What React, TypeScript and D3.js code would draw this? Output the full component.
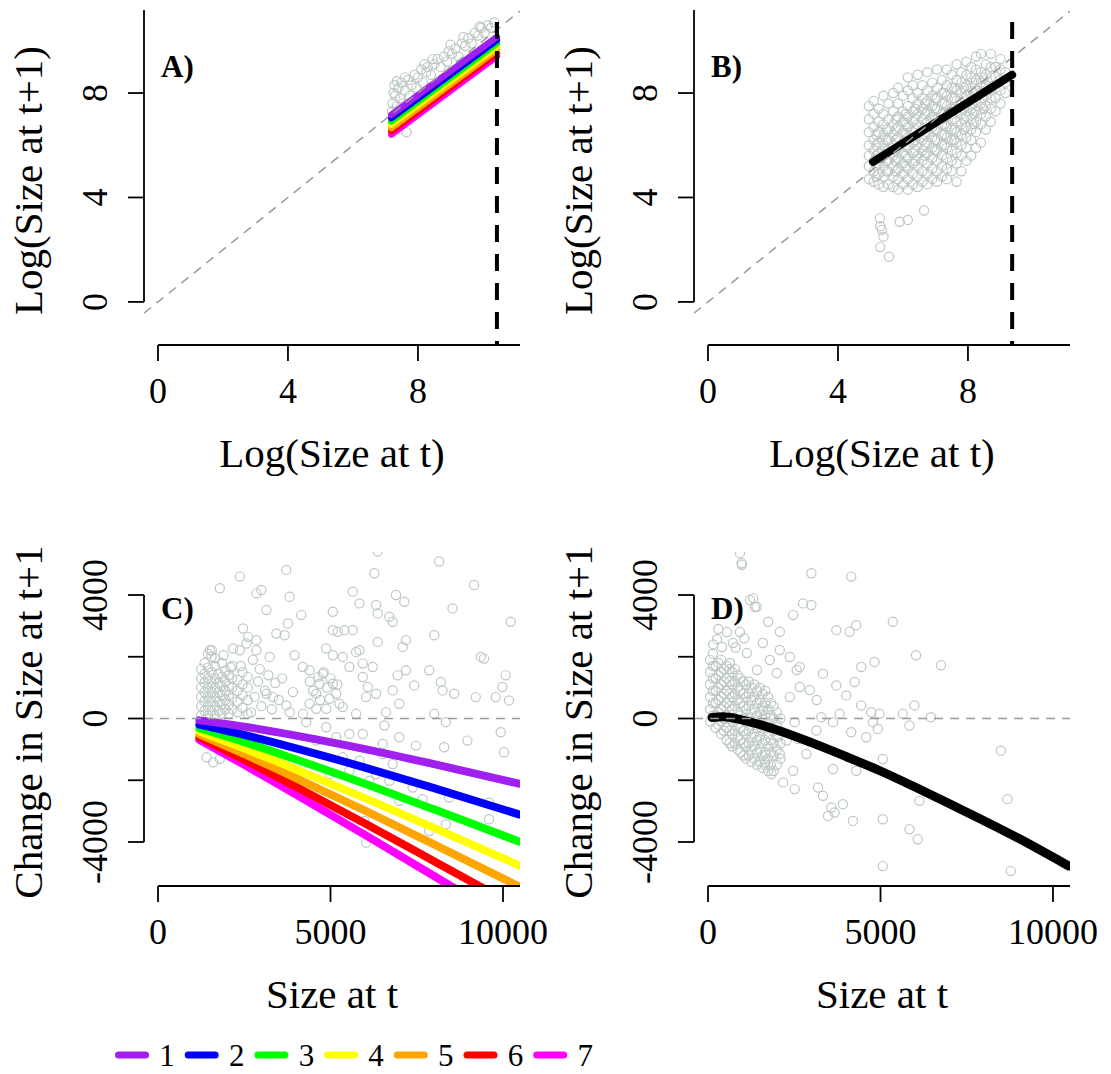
import React from "react";
import * as d3 from "d3";

const W = 1111;
const H = 1074;

// ---------- tick labels ----------
const logTicks = [0, 4, 8];
const logTickLabels = ["0", "4", "8"];
const sizeTicks = [0, 5000, 10000];
const sizeTickLabels = ["0", "5000", "10000"];
const changeTicks = [-4000, -2000, 0, 2000, 4000];
const changeTickLabels = ["-4000", "", "0", "", "4000"];

// ---------- axis domains (plot region extents) ----------
const logDomainX = [-0.43, 11.14];
const logDomainY = [-1.65, 11.18];
const sizeDomainX = [-406, 10493];
const changeDomainY = [-5425, 5393];

// ---------- legend ----------
const groups = ["1", "2", "3", "4", "5", "6", "7"];
const groupColors = ["#A020F0", "#0000FF", "#00FF00", "#FFFF00", "#FFA500", "#FF0000", "#FF00FF"];

// ---------- Panel A: per-group fitted lines (log scale) ----------
const aLineX = [7.18, 10.43];
const aLineY = [
  [7.16, 10.15],
  [7.04, 10.03],
  [6.91, 9.9],
  [6.79, 9.78],
  [6.66, 9.65],
  [6.54, 9.53],
  [6.41, 9.4],
];
const aThreshold = 10.43;
const aPoints: [number, number][] = [
  [7.2, 7.3], [7.22, 7.6], [7.25, 8.0], [7.28, 8.3], [7.3, 7.9], [7.35, 7.5], [7.4, 8.2], [7.45, 7.8],
  [7.5, 8.4], [7.55, 7.6], [7.6, 8.1], [7.65, 6.5], [7.7, 8.5], [7.75, 7.9], [7.8, 8.3], [7.9, 8.7],
  [7.95, 8.2], [8.0, 8.6], [8.1, 8.9], [8.15, 8.4], [8.25, 8.8], [8.3, 9.0], [8.4, 8.7], [8.5, 9.1],
  [8.6, 9.3], [8.7, 9.0], [8.8, 9.4], [8.9, 9.2], [8.95, 9.6], [9.05, 9.5], [9.15, 9.7], [9.25, 9.4],
  [9.35, 9.9], [9.45, 9.8], [9.55, 10.1], [9.65, 9.9], [9.75, 10.3], [9.85, 10.2], [9.95, 10.5],
  [10.05, 10.3], [10.15, 10.6], [10.25, 10.5], [10.35, 10.7], [7.3, 7.1], [7.5, 7.3], [7.8, 7.6],
  [7.35, 8.45], [7.6, 8.6], [8.2, 9.1], [8.45, 9.3], [9.0, 9.85], [9.4, 10.15], [9.9, 10.55],
];

// ---------- Panel B: pooled fit (log scale) ----------
const bLineX = [5.08, 9.36];
const bLineY = [5.36, 8.7];
const bThreshold = 9.36;
const bCloud: [number, number[]][] = [
  [4.95, [4.7, 5.2, 5.6, 6.0, 6.5, 7.0, 7.5]],
  [5.1, [4.6, 5.0, 5.4, 5.8, 6.2, 6.7, 7.2, 7.7]],
  [5.25, [4.5, 4.9, 5.3, 5.7, 6.1, 6.5, 6.9, 7.4]],
  [5.4, [4.4, 4.8, 5.2, 5.6, 6.0, 6.4, 6.8, 7.2, 7.9]],
  [5.55, [4.5, 5.0, 5.4, 5.8, 6.2, 6.6, 7.0, 7.6]],
  [5.7, [4.4, 4.8, 5.2, 5.6, 6.0, 6.4, 6.8, 7.3, 8.0]],
  [5.85, [4.3, 4.7, 5.1, 5.5, 5.9, 6.3, 6.7, 7.1, 7.6, 8.2]],
  [6.0, [4.5, 4.9, 5.3, 5.7, 6.1, 6.5, 6.9, 7.3, 7.9]],
  [6.15, [4.3, 4.7, 5.1, 5.5, 5.9, 6.3, 6.7, 7.1, 7.5, 8.1, 8.6]],
  [6.3, [4.5, 4.9, 5.3, 5.7, 6.1, 6.5, 6.9, 7.3, 7.8, 8.3]],
  [6.45, [4.4, 4.8, 5.2, 5.6, 6.0, 6.4, 6.8, 7.2, 7.6, 8.0, 8.7]],
  [6.6, [4.6, 5.0, 5.4, 5.8, 6.2, 6.6, 7.0, 7.4, 7.8, 8.3]],
  [6.75, [4.5, 4.9, 5.3, 5.7, 6.1, 6.5, 6.9, 7.3, 7.7, 8.1, 8.8]],
  [6.9, [4.7, 5.1, 5.5, 5.9, 6.3, 6.7, 7.1, 7.5, 7.9, 8.4]],
  [7.05, [4.6, 5.0, 5.4, 5.8, 6.2, 6.6, 7.0, 7.4, 7.8, 8.2, 8.9]],
  [7.2, [4.8, 5.2, 5.6, 6.0, 6.4, 6.8, 7.2, 7.6, 8.0, 8.5]],
  [7.35, [4.7, 5.1, 5.5, 5.9, 6.3, 6.7, 7.1, 7.5, 7.9, 8.3, 8.9]],
  [7.5, [5.0, 5.4, 5.8, 6.2, 6.6, 7.0, 7.4, 7.8, 8.2, 8.7]],
  [7.65, [4.6, 5.3, 5.7, 6.1, 6.5, 6.9, 7.3, 7.7, 8.1, 8.5, 9.1]],
  [7.8, [5.0, 5.6, 6.0, 6.4, 6.8, 7.2, 7.6, 8.0, 8.4, 8.8]],
  [7.95, [5.4, 5.9, 6.3, 6.7, 7.1, 7.5, 7.9, 8.3, 8.7, 9.2]],
  [8.1, [5.6, 6.2, 6.6, 7.0, 7.4, 7.8, 8.2, 8.6, 9.0]],
  [8.25, [5.9, 6.5, 6.9, 7.3, 7.7, 8.1, 8.5, 8.9, 9.4]],
  [8.4, [6.1, 6.8, 7.2, 7.6, 8.0, 8.4, 8.8, 9.5]],
  [8.55, [6.6, 7.1, 7.5, 7.9, 8.3, 8.7, 9.1]],
  [8.7, [6.9, 7.4, 7.8, 8.2, 8.6, 9.0, 9.5]],
  [8.85, [7.3, 7.8, 8.2, 8.6, 9.0]],
  [9.0, [7.6, 8.1, 8.5, 8.9, 9.3]],
  [9.15, [8.0, 8.4, 8.8]],
];
const bCore: [number, number[]][] = [
  [5.18, [4.8, 5.2, 5.6, 6.0, 6.4]],
  [5.48, [5.0, 5.4, 5.8, 6.2, 6.6]],
  [5.78, [5.0, 5.4, 5.8, 6.2, 6.6, 7.0]],
  [6.08, [5.2, 5.6, 6.0, 6.4, 6.8, 7.2]],
  [6.38, [5.4, 5.8, 6.2, 6.6, 7.0, 7.4]],
  [6.68, [5.6, 6.0, 6.4, 6.8, 7.2, 7.6]],
  [6.98, [5.8, 6.2, 6.6, 7.0, 7.4, 7.8]],
  [7.28, [6.0, 6.4, 6.8, 7.2, 7.6, 8.0]],
  [7.58, [6.2, 6.6, 7.0, 7.4, 7.8, 8.2]],
  [7.88, [6.6, 7.0, 7.4, 7.8, 8.2]],
  [8.18, [6.8, 7.2, 7.6, 8.0, 8.4]],
  [8.48, [7.4, 7.8, 8.2, 8.6]],
];
const bOutliers: [number, number][] = [
  [5.29, 3.2], [5.35, 2.76], [5.4, 2.5], [5.3, 2.1], [5.57, 1.73], [5.3, 2.9],
  [5.9, 3.07], [6.15, 3.14], [6.65, 3.5],
];

// ---------- Panel C: per-group change curves ----------
const cLineX = [1200, 2500, 4000, 6000, 8000, 10460];
const cLineY = [
  [-61, -264, -554, -991, -1478, -2110],
  [-197, -531, -965, -1589, -2256, -3106],
  [-317, -766, -1327, -2115, -2942, -3984],
  [-422, -973, -1646, -2578, -3545, -4756],
  [-515, -1155, -1927, -2987, -4076, -5437],
  [-605, -1335, -2210, -3400, -4620, -6130],
  [-690, -1500, -2460, -3770, -5100, -6750],
];
const cCluster: [number, number[]][] = [
  [1250, [100, 400, 700, 1000, 1300, 1600]],
  [1350, [250, 550, 850, 1150, 1450, 1800]],
  [1450, [100, 400, 700, 1000, 1300, 1650]],
  [1550, [250, 550, 850, 1150, 1500, 2000]],
  [1650, [100, 400, 700, 1000, 1300, 1700]],
  [1750, [250, 550, 850, 1150, 1450]],
  [1850, [150, 450, 750, 1050, 1350, 1800]],
  [1950, [300, 600, 900, 1200, 1550]],
  [2050, [150, 450, 750, 1050, 1400]],
  [2150, [300, 650, 1000, 1300, 1700]],
  [2300, [200, 550, 900, 1250]],
  [2450, [350, 750, 1100, 1500]],
  [2600, [150, 600, 1000, 1350]],
];
const cPoints: [number, number][] = [
  [3719, 4813], [2370, 4596], [1792, 4217], [2852, 4054], [2996, 4163], [3815, 3946], [3141, 3512],
  [4152, 3350], [3767, 3079], [3430, 2753], [3671, 2699], [2466, 2916], [2611, 2645], [2563, 2428],
  [2852, 2537], [2177, 2266], [2370, 2211], [1503, 2211], [2852, 2211], [3237, 1995], [3960, 2049],
  [4875, 2266], [5067, 2049], [5356, 1995], [5742, 2157], [5838, 2211], [5935, 1778], [6224, 1669],
  [5549, 1669], [6272, 4705], [6368, 5409], [8150, 5084], [9162, 4325], [10222, 3133], [8536, 3566],
  [8006, 2699], [7861, 1561], [7187, 2537], [7091, 2320], [6898, 4000], [7139, 3783], [6705, 3295],
  [6802, 3133], [6368, 3404], [6320, 3675], [5838, 3729], [5645, 4108], [5067, 3458], [5067, 2862],
  [5212, 2808], [5405, 2862], [5645, 2862], [6368, 2482], [6946, 1398], [7187, 1561], [7428, 1073],
  [8198, 1182], [8247, 911], [8584, 802], [9355, 1995], [9451, 1940], [10077, 1398], [9981, 1019],
  [9788, 694], [10173, 585], [9210, 694], [8006, 152], [8343, -119], [9933, -444], [10029, -1095],
  [8295, -932], [8969, -715], [7476, -878], [6994, -607], [6513, -824], [5935, -499], [5549, -499],
  [5164, -607], [4875, -282], [4586, -715], [4297, -119], [4200, 152], [3815, 206], [3719, 423],
  [3141, 802], [3333, 694], [3911, 856], [4393, 477], [4586, 314], [4875, 314], [4971, 640],
  [5164, 802], [5260, 477], [5067, 1127], [4682, 1127], [4393, 1561], [4200, 1669], [4778, 1453],
  [4586, 802], [5935, 1344], [6031, 694], [5742, 152], [5356, 369], [6609, 206], [6994, 477],
  [6802, 911], [6079, 1019], [6320, 802], [6561, -228], [1407, -1257], [1599, -1420], [1792, -1312],
  [6031, -4022], [6513, -1149], [6802, -1474], [6994, -2667], [7380, -2233], [7669, -2612],
  [7861, -3642], [8439, -2558], [9595, -2721], [9595, -3263], [8343, -3425], [5983, -3317],
  [6127, -2016], [6705, -2016], [4971, -1799], [5356, -1257], [5549, -1691], [5838, -1366],
  [6320, -1799], [4500, 900], [4700, 600], [4900, 1000], [5000, 1300], [4800, 1500], [5200, 1100],
  [4400, 1200], [4650, 1350], [2800, 700], [2900, 1200], [3000, 400], [3100, 900], [2950, 1600],
  [3200, 1400], [3300, 300], [3400, 1150], [3500, 600], [3600, 1300], [2100, 1650], [2400, 1700],
  [2750, 1900], [1450, 2100], [1650, 1950], [1900, 2050], [1560, 2211], [2700, 200],
];

// ---------- Panel D: pooled change curve ----------
const dLineX = [116, 434, 1000, 2000, 3000, 4000, 5000, 6000, 7000, 8000, 9000, 10460];
const dLineY = [30, 55, -50, -370, -780, -1230, -1700, -2220, -2760, -3310, -3880, -4780];
const dCore: [number, number[]][] = [
  [60, [-100, 300, 700, 1100, 1500, 1900]],
  [140, [100, 500, 900, 1300, 1700, 2100]],
  [220, [-300, 100, 500, 900, 1300, 1700]],
  [300, [-200, 200, 600, 1000, 1400, 1800]],
  [380, [-500, -100, 300, 700, 1100, 1500, 1900]],
  [460, [-400, 0, 400, 800, 1200, 1600]],
  [540, [-700, -300, 100, 500, 900, 1300, 1700]],
  [620, [-800, -400, 0, 400, 800, 1200, 1600]],
  [700, [-900, -500, -100, 300, 700, 1100, 1500]],
  [780, [-800, -400, 0, 400, 800, 1200, 1600]],
  [860, [-1000, -600, -200, 200, 600, 1000, 1400]],
  [940, [-1100, -700, -300, 100, 500, 900, 1300]],
  [1020, [-1200, -800, -400, 0, 400, 800, 1200]],
  [1100, [-1300, -900, -500, -100, 300, 700, 1100]],
  [1180, [-1200, -800, -400, 0, 400, 800, 1200]],
  [1260, [-1400, -1000, -600, -200, 200, 600, 1000]],
  [1340, [-1300, -900, -500, -100, 300, 700, 1100]],
  [1420, [-1500, -1100, -700, -300, 100, 500, 900]],
  [1500, [-1400, -1000, -600, -200, 200, 600, 1000]],
  [1580, [-1600, -1200, -800, -400, 0, 400, 800]],
  [1660, [-1500, -1100, -700, -300, 100, 500, 900]],
  [1740, [-1700, -1300, -900, -500, -100, 300, 700]],
  [1820, [-1500, -1100, -700, -300, 100, 500]],
  [1900, [-1700, -1200, -800, -400, 0, 400]],
  [2000, [-1500, -1000, -600, -200, 200]],
  [2100, [-1300, -800, -400, 0]],
];
const dPoints: [number, number][] = [
  [973, 5030], [925, 5355], [2996, 4705], [4152, 4596], [1310, 3892], [1407, 3621], [2755, 3729],
  [2996, 3675], [2466, 3350], [1744, 3133], [2081, 2808], [3719, 2862], [4104, 2808], [4297, 3024],
  [5356, 3133], [6031, 2049], [6753, 1724], [4827, 1832], [4441, 1669], [4249, 1182], [3719, 1073],
  [3333, 1453], [4008, 748], [4441, 423], [4730, 206], [4971, 152], [4778, -119], [4923, -336],
  [4586, -607], [4152, -444], [3815, 152], [3622, -119], [3285, 43], [3141, -390], [2852, -1149],
  [2611, -661], [2514, -119], [2274, -715], [2081, -1149], [2466, -1691], [2177, -2070],
  [2514, -2287], [3189, -2233], [3333, -2504], [3574, -2883], [3671, -3046], [3478, -3154],
  [3911, -2775], [4200, -3317], [5067, -3263], [5067, -1312], [5067, -4780], [4297, -1691],
  [3622, -1637], [5838, -3588], [6079, -3913], [6127, -2667], [5645, 152], [5983, 423], [5838, -228],
  [6464, 43], [8488, -1041], [8680, -2612], [8777, -4943], [2659, 1669], [2370, 694], [1599, 260],
  [1840, -1799], [1647, -1420], [549, 2800], [925, 2800], [405, 2316], [723, 2445], [1127, 2121],
  [1590, 2445], [1792, 1895], [2081, 2219], [2370, 1992], [260, 2570], [636, 1798], [1416, 1570],
  [1994, 1473], [2572, 1570], [2659, 1020], [2948, 923], [3150, 599], [983, 4976], [1214, 3837],
  [1358, 3610], [300, 2900], [150, 2400], [800, 2300], [1050, 2600],
];

// ---------- layout ----------
type Box = { l: number; r: number; t: number; b: number };
const boxA: Box = { l: 144, r: 520, t: 10, b: 345 };
const boxB: Box = { l: 694, r: 1070, t: 10, b: 345 };
const boxC: Box = { l: 144, r: 520, t: 552, b: 886 };
const boxD: Box = { l: 694, r: 1070, t: 552, b: 886 };

const FONT = "'Liberation Serif', 'Times New Roman', serif";
const PT_COLOR = "#BDC8C4";
const REF_COLOR = "#999999";

const flatten = (cols: [number, number[]][]) =>
  cols.flatMap(([x, ys]) => ys.map((y) => [x, y] as [number, number]));

function Axes(props: {
  box: Box;
  x: d3.ScaleLinear<number, number>;
  y: d3.ScaleLinear<number, number>;
  xTicks: number[];
  xLabels: string[];
  yTicks: number[];
  yLabels: string[];
  yTop?: number;
  xTitle: string;
  yTitle: string;
  tag: string;
}) {
  const { box, x, y, xTicks, xLabels, yTicks, yLabels, yTop, xTitle, yTitle, tag } = props;
  const axY = box.b;
  const axX = box.l;
  const yStart = y(yTicks[0]);
  const yEnd = yTop !== undefined ? yTop : y(yTicks[yTicks.length - 1]);
  return (
    <g fontFamily={FONT} fill="#000">
      <line x1={x(xTicks[0])} x2={box.r} y1={axY} y2={axY} stroke="#000" strokeWidth={1.8} />
      {xTicks.map((t, i) => (
        <g key={"xt" + i}>
          <line x1={x(t)} x2={x(t)} y1={axY} y2={axY + 16} stroke="#000" strokeWidth={1.8} />
          <text x={x(t)} y={axY + 58} textAnchor="middle" fontSize={36}>
            {xLabels[i]}
          </text>
        </g>
      ))}
      <line x1={axX} x2={axX} y1={yStart} y2={yEnd} stroke="#000" strokeWidth={1.8} />
      {yTicks.map((t, i) => (
        <g key={"yt" + i}>
          <line x1={axX - 16} x2={axX} y1={y(t)} y2={y(t)} stroke="#000" strokeWidth={1.8} />
          {yLabels[i] !== "" && (
            <text
              transform={`translate(${axX - 37},${y(t)}) rotate(-90)`}
              textAnchor="middle"
              fontSize={36}
            >
              {yLabels[i]}
            </text>
          )}
        </g>
      ))}
      <text x={(box.l + box.r) / 2} y={axY + 122} textAnchor="middle" fontSize={41}>
        {xTitle}
      </text>
      <text
        transform={`translate(${axX - 102},${(box.t + box.b) / 2 + 3}) rotate(-90)`}
        textAnchor="middle"
        fontSize={41}
      >
        {yTitle}
      </text>
      <text x={box.l + 17} y={box.t + 67} fontWeight="bold" fontSize={31}>
        {tag}
      </text>
    </g>
  );
}

function Points({ pts, x, y }: { pts: [number, number][]; x: any; y: any }) {
  return (
    <g fill="none" stroke={PT_COLOR} strokeWidth={1.2}>
      {pts.map((p, i) => (
        <circle key={i} cx={x(p[0])} cy={y(p[1])} r={4.6} />
      ))}
    </g>
  );
}

export default function App() {
  const xA = d3.scaleLinear().domain(logDomainX).range([boxA.l, boxA.r]);
  const yA = d3.scaleLinear().domain(logDomainY).range([boxA.b, boxA.t]);
  const xB = d3.scaleLinear().domain(logDomainX).range([boxB.l, boxB.r]);
  const yB = d3.scaleLinear().domain(logDomainY).range([boxB.b, boxB.t]);
  const xC = d3.scaleLinear().domain(sizeDomainX).range([boxC.l, boxC.r]);
  const yC = d3.scaleLinear().domain(changeDomainY).range([boxC.b, boxC.t]);
  const xD = d3.scaleLinear().domain(sizeDomainX).range([boxD.l, boxD.r]);
  const yD = d3.scaleLinear().domain(changeDomainY).range([boxD.b, boxD.t]);

  const curve = (xs: number[], ys: number[], x: any, y: any) =>
    d3
      .line<number>()
      .x((_, i) => x(xs[i]))
      .y((d) => y(d))
      .curve(d3.curveMonotoneX)(ys) || "";

  const bPts = flatten(bCloud).concat(flatten(bCore)).concat(bOutliers);
  const cPts = flatten(cCluster).concat(cPoints);
  const dPts = flatten(dCore).concat(dPoints);

  const clip = (id: string, b: Box) => (
    <clipPath id={id}>
      <rect x={b.l} y={b.t} width={b.r - b.l} height={b.b - b.t} />
    </clipPath>
  );

  const order = [6, 5, 4, 3, 2, 1, 0];

  return (
    <svg
      width={W}
      height={H}
      viewBox={`0 0 ${W} ${H}`}
      style={{ position: "absolute", left: 0, top: 0, background: "#fff" }}
    >
      <defs>
        {clip("clipA", boxA)}
        {clip("clipB", boxB)}
        {clip("clipC", boxC)}
        {clip("clipD", boxD)}
      </defs>
      <rect x={0} y={0} width={W} height={H} fill="#fff" />

      {/* Panel A */}
      <g clipPath="url(#clipA)">
        <Points pts={aPoints} x={xA} y={yA} />
        {order.map((g) => (
          <path
            key={g}
            d={curve(aLineX, aLineY[g], xA, yA)}
            stroke={groupColors[g]}
            strokeWidth={6.5}
            strokeLinecap="round"
            fill="none"
          />
        ))}
        <line
          x1={xA(logDomainX[0])}
          y1={yA(logDomainX[0])}
          x2={xA(logDomainX[1])}
          y2={yA(logDomainX[1])}
          stroke={REF_COLOR}
          strokeWidth={1.5}
          strokeDasharray="9,7"
        />
        <line
          x1={xA(aThreshold)}
          x2={xA(aThreshold)}
          y1={boxA.t + 12}
          y2={boxA.b}
          stroke="#000"
          strokeWidth={4}
          strokeDasharray="17,12"
        />
      </g>
      <Axes
        box={boxA}
        x={xA}
        y={yA}
        xTicks={logTicks}
        xLabels={logTickLabels}
        yTicks={logTicks}
        yLabels={logTickLabels}
        yTop={boxA.t}
        xTitle="Log(Size at t)"
        yTitle="Log(Size at t+1)"
        tag="A)"
      />

      {/* Panel B */}
      <g clipPath="url(#clipB)">
        <Points pts={bPts} x={xB} y={yB} />
        <path
          d={curve(bLineX, bLineY, xB, yB)}
          stroke="#000"
          strokeWidth={8}
          strokeLinecap="round"
          fill="none"
        />
        <line
          x1={xB(logDomainX[0])}
          y1={yB(logDomainX[0])}
          x2={xB(logDomainX[1])}
          y2={yB(logDomainX[1])}
          stroke={REF_COLOR}
          strokeWidth={1.5}
          strokeDasharray="9,7"
        />
        <line
          x1={xB(bThreshold)}
          x2={xB(bThreshold)}
          y1={boxB.t + 12}
          y2={boxB.b}
          stroke="#000"
          strokeWidth={4}
          strokeDasharray="17,12"
        />
      </g>
      <Axes
        box={boxB}
        x={xB}
        y={yB}
        xTicks={logTicks}
        xLabels={logTickLabels}
        yTicks={logTicks}
        yLabels={logTickLabels}
        yTop={boxB.t}
        xTitle="Log(Size at t)"
        yTitle="Log(Size at t+1)"
        tag="B)"
      />

      {/* Panel C */}
      <g clipPath="url(#clipC)">
        <Points pts={cPts} x={xC} y={yC} />
        {order.map((g) => (
          <path
            key={g}
            d={curve(cLineX, cLineY[g], xC, yC)}
            stroke={groupColors[g]}
            strokeWidth={8}
            strokeLinecap="round"
            fill="none"
          />
        ))}
        <line
          x1={boxC.l}
          x2={boxC.r}
          y1={yC(0)}
          y2={yC(0)}
          stroke={REF_COLOR}
          strokeWidth={1.5}
          strokeDasharray="9,7"
        />
      </g>
      <Axes
        box={boxC}
        x={xC}
        y={yC}
        xTicks={sizeTicks}
        xLabels={sizeTickLabels}
        yTicks={changeTicks}
        yLabels={changeTickLabels}
        xTitle="Size at t"
        yTitle="Change in Size at t+1"
        tag="C)"
      />

      {/* Panel D */}
      <g clipPath="url(#clipD)">
        <Points pts={dPts} x={xD} y={yD} />
        <path
          d={curve(dLineX, dLineY, xD, yD)}
          stroke="#000"
          strokeWidth={9}
          strokeLinecap="round"
          fill="none"
        />
        <line
          x1={boxD.l}
          x2={boxD.r}
          y1={yD(0)}
          y2={yD(0)}
          stroke={REF_COLOR}
          strokeWidth={1.5}
          strokeDasharray="9,7"
        />
      </g>
      <Axes
        box={boxD}
        x={xD}
        y={yD}
        xTicks={sizeTicks}
        xLabels={sizeTickLabels}
        yTicks={changeTicks}
        yLabels={changeTickLabels}
        xTitle="Size at t"
        yTitle="Change in Size at t+1"
        tag="D)"
      />

      {/* Legend */}
      <g fontFamily={FONT}>
        {groups.map((g, i) => (
          <g key={g} transform={`translate(${132 + i * 69.7},1055)`}>
            <line x1={-13.5} x2={13.5} y1={0} y2={0} stroke={groupColors[i]} strokeWidth={7} strokeLinecap="round" />
            <text x={35} y={11} textAnchor="middle" fontSize={31}>
              {g}
            </text>
          </g>
        ))}
      </g>
    </svg>
  );
}
